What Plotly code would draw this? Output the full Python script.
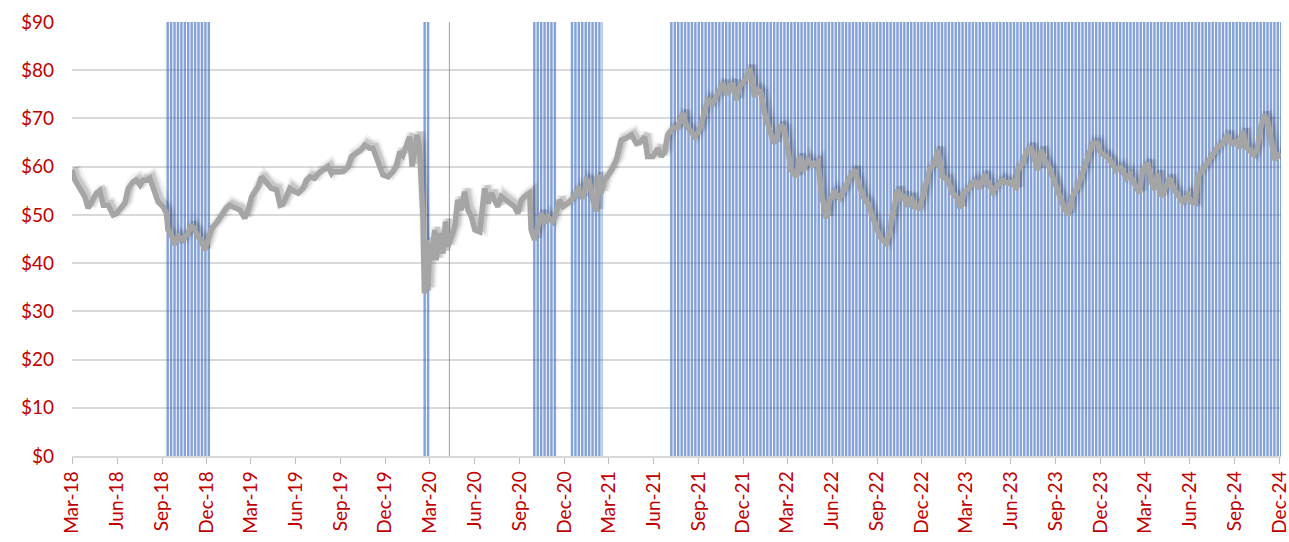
import pandas as pd
import plotly.graph_objects as go

# ---------------- data ----------------
dates_2018 = ["2018-03-01","2018-03-07","2018-03-17","2018-03-27","2018-04-03","2018-04-10","2018-04-20","2018-04-27",
              "2018-05-04","2018-05-14","2018-05-24","2018-05-31","2018-06-10","2018-06-17","2018-06-24","2018-07-04",
              "2018-07-11","2018-07-18","2018-07-24","2018-07-31","2018-08-07","2018-08-17","2018-08-24","2018-09-03",
              "2018-09-10","2018-09-13","2018-09-20","2018-09-27","2018-10-04","2018-10-14","2018-10-24","2018-10-31",
              "2018-11-07","2018-11-13","2018-11-20","2018-11-27","2018-12-04","2018-12-11","2018-12-21","2018-12-31"]
price_2018 = [59.3,57.2,55.5,53.8,51.4,52.7,54.5,55.0,52.0,52.0,50.0,50.3,51.4,52.4,55.5,56.9,57.2,56.2,57.2,57.2,
              57.6,54.8,52.7,51.7,50.3,46.9,45.8,43.8,45.5,44.8,46.2,47.9,46.9,45.5,44.8,42.7,44.8,47.2,48.3,50.0]

dates_2019 = ["2019-01-10","2019-01-17","2019-01-27","2019-02-07","2019-02-17","2019-02-24","2019-03-03","2019-03-09",
              "2019-03-16","2019-03-23","2019-04-02","2019-04-12","2019-04-23","2019-04-30","2019-05-06","2019-05-13",
              "2019-05-20","2019-05-27","2019-06-06","2019-06-16","2019-06-23","2019-06-30","2019-07-10","2019-07-17",
              "2019-07-27","2019-08-06","2019-08-13","2019-08-16","2019-08-26","2019-09-06","2019-09-16","2019-09-23",
              "2019-10-03","2019-10-13","2019-10-20","2019-10-30","2019-11-06","2019-11-13","2019-11-20","2019-11-26",
              "2019-12-07","2019-12-17","2019-12-24","2019-12-31"]
price_2019 = [51.4,52.0,51.4,51.0,49.3,51.0,53.8,55.0,55.8,57.9,56.5,55.5,55.2,52.0,52.2,53.8,55.5,55.0,54.5,55.5,
              57.2,57.9,57.6,58.6,59.3,60.0,58.6,59.0,58.9,59.0,60.0,62.1,62.8,63.5,64.5,63.8,63.8,61.7,60.0,58.3,
              57.9,59.0,60.3,63.1]

dates_2020 = ["2020-01-06","2020-01-13","2020-01-20","2020-01-25","2020-01-30","2020-02-04","2020-02-09","2020-02-13",
              "2020-02-16","2020-02-18","2020-02-19","2020-02-23","2020-02-26","2020-03-01","2020-03-04","2020-03-11",
              "2020-03-14","2020-03-21","2020-03-28","2020-04-02","2020-04-07","2020-04-14","2020-04-21","2020-04-27",
              "2020-05-04","2020-05-11","2020-05-18","2020-05-25","2020-06-01","2020-06-11","2020-06-16","2020-06-21",
              "2020-06-28","2020-07-05","2020-07-11","2020-07-18","2020-07-25","2020-08-04","2020-08-14","2020-08-21",
              "2020-08-28","2020-09-04","2020-09-14","2020-09-21","2020-09-24","2020-10-01","2020-10-08","2020-10-15",
              "2020-10-22","2020-10-28","2020-11-07","2020-11-14","2020-11-21","2020-11-28","2020-12-08","2020-12-18",
              "2020-12-29"]
price_2020 = [62.4,64.8,66.2,60.0,63.5,66.6,64.1,56.5,49.6,39.3,33.7,44.8,34.4,44.1,40.6,46.9,40.6,46.2,42.0,
              48.6,43.4,45.5,47.6,53.1,51.0,54.8,51.0,49.6,46.9,46.5,51.0,55.5,52.4,54.5,53.1,51.7,53.8,
              53.1,52.4,51.7,50.3,53.1,54.1,54.5,46.9,44.8,47.6,50.3,48.3,49.6,48.6,50.3,53.1,51.7,52.4,53.4,55.2]

dates_2021 = ["2021-01-08","2021-01-15","2021-01-21","2021-01-28","2021-02-04","2021-02-09","2021-02-14","2021-02-21",
              "2021-03-07","2021-03-17","2021-03-27","2021-04-06","2021-04-17","2021-04-27","2021-05-04","2021-05-14",
              "2021-05-20","2021-05-31","2021-06-10","2021-06-17","2021-06-24","2021-06-30","2021-07-11","2021-07-21",
              "2021-07-31","2021-08-07","2021-08-17","2021-08-24","2021-09-03","2021-09-13","2021-09-20","2021-09-30",
              "2021-10-10","2021-10-21","2021-10-28","2021-11-03","2021-11-10","2021-11-17","2021-11-24","2021-12-01",
              "2021-12-07","2021-12-14","2021-12-20","2021-12-24","2021-12-31"]
price_2021 = [53.4,57.2,56.9,53.1,50.7,58.3,54.5,57.2,59.3,61.4,65.5,65.9,66.6,64.8,65.0,66.2,62.1,62.1,
              63.8,62.1,63.1,66.6,68.0,68.2,71.1,68.6,67.3,66.2,67.6,71.8,73.8,73.1,75.2,77.3,74.9,
              76.6,77.3,73.8,76.6,77.6,78.3,80.4,78.0,74.5,75.9]

dates_2022 = ["2022-01-07","2022-01-14","2022-01-24","2022-02-03","2022-02-10","2022-02-17","2022-02-24","2022-03-02",
              "2022-03-09","2022-03-20","2022-03-26","2022-04-02","2022-04-12","2022-04-22","2022-05-03","2022-05-10",
              "2022-05-20","2022-05-27","2022-06-06","2022-06-16","2022-06-26","2022-07-06","2022-07-17","2022-07-23",
              "2022-08-03","2022-08-13","2022-08-25","2022-09-06","2022-09-19","2022-09-26","2022-10-03","2022-10-10",
              "2022-10-13","2022-10-20","2022-10-27","2022-11-02","2022-11-09","2022-11-16","2022-11-26","2022-12-03",
              "2022-12-10","2022-12-17","2022-12-27"]
price_2022 = [75.2,71.1,67.6,64.8,66.9,68.6,67.6,63.5,59.3,57.9,62.1,59.0,61.4,60.3,61.0,54.5,49.3,53.1,
              54.8,53.4,55.2,57.6,59.3,57.2,53.8,52.4,48.5,45.5,44.1,46.2,50.3,53.1,55.2,53.1,54.1,
              51.7,53.8,51.7,51.4,53.8,57.2,59.3,60.7]

dates_2023 = ["2023-01-03","2023-01-08","2023-01-13","2023-01-23","2023-02-02","2023-02-13","2023-02-17","2023-02-26",
              "2023-03-09","2023-03-19","2023-03-29","2023-04-08","2023-04-15","2023-04-25","2023-05-05","2023-05-15",
              "2023-05-26","2023-06-05","2023-06-12","2023-06-15","2023-06-25","2023-07-02","2023-07-12","2023-07-19",
              "2023-07-26","2023-08-02","2023-08-09","2023-08-19","2023-08-29","2023-09-08","2023-09-18","2023-09-27",
              "2023-10-05","2023-10-16","2023-10-26","2023-11-05","2023-11-15","2023-11-25","2023-12-02","2023-12-13",
              "2023-12-23"]
price_2023 = [63.5,60.7,57.9,57.2,54.5,53.4,51.4,54.5,55.8,56.9,55.5,58.3,56.9,54.8,56.2,57.2,56.5,
              56.9,55.2,59.3,60.7,62.8,64.1,62.1,59.3,63.5,61.4,59.7,56.9,53.8,51.4,50.0,53.8,55.8,58.6,
              62.1,64.8,64.8,62.8,62.1,61.0]

dates_2024 = ["2024-01-02","2024-01-12","2024-01-23","2024-01-30","2024-02-08","2024-02-19","2024-02-25","2024-03-07",
              "2024-03-14","2024-03-20","2024-03-27","2024-04-03","2024-04-13","2024-04-20","2024-04-30","2024-05-11",
              "2024-05-17","2024-05-28","2024-06-03","2024-06-12","2024-06-17","2024-06-27","2024-07-07","2024-07-17",
              "2024-07-28","2024-08-07","2024-08-17","2024-08-24","2024-09-03","2024-09-10","2024-09-18","2024-09-24",
              "2024-10-04","2024-10-10","2024-10-17","2024-10-24","2024-10-31","2024-11-07","2024-11-14","2024-11-21",
              "2024-11-28","2024-12-03"]
price_2024 = [59.3,59.8,57.6,58.3,56.5,54.5,59.3,60.7,56.9,55.2,58.6,53.8,55.8,57.6,55.2,53.8,52.7,54.1,
              52.7,52.4,57.9,59.3,60.7,62.1,64.1,64.8,66.6,64.8,65.2,63.8,67.3,64.1,63.1,62.4,64.1,68.3,70.7,
              69.3,65.5,61.4,62.4,62.1]

# periods in which the signal (blue bars, full height) is on
signal_start = ["2018-09-10", "2020-02-17", "2020-04-09", "2020-09-28", "2020-12-14", "2021-07-05"]
signal_end   = ["2018-12-07", "2020-02-28", "2020-04-10", "2020-11-13", "2021-02-16", "2024-12-03"]
signal_level = 90

y_tick_values = [0, 10, 20, 30, 40, 50, 60, 70, 80, 90]
y_tick_labels = ["$0", "$10", "$20", "$30", "$40", "$50", "$60", "$70", "$80", "$90"]
x_first_tick = "2018-03-01"
x_range = ["2018-03-01", "2024-12-04"]

# ---------------- build ----------------
dates = dates_2018 + dates_2019 + dates_2020 + dates_2021 + dates_2022 + dates_2023 + dates_2024
price = price_2018 + price_2019 + price_2020 + price_2021 + price_2022 + price_2023 + price_2024

# trading days of the signal, drawn as one bar per run of consecutive weekdays
bar_x, bar_w = [], []
day = pd.Timedelta(days=1)
for s, e in zip(signal_start, signal_end):
    days = pd.bdate_range(s, e)
    run_start = days[0]
    prev = days[0]
    for d in list(days[1:]) + [None]:
        if d is None or d - prev > day:
            run_end = prev + day
            bar_x.append(run_start + (run_end - run_start) / 2)
            bar_w.append((run_end - run_start).total_seconds() * 1000)
            if d is not None:
                run_start = d
        if d is not None:
            prev = d

RED = "#C00000"
FONT = "Lato"

fig = go.Figure()
fig.add_trace(go.Bar(x=bar_x, y=[signal_level] * len(bar_x), width=bar_w,
                     marker=dict(color="rgba(68,114,196,0.66)", line=dict(width=0)),
                     hoverinfo="skip", showlegend=False, xaxis="x", yaxis="y"))
# soft drop shadow of the price line (drawn on slightly shifted overlay axes)
for w, a in [(12, 0.05), (8, 0.08), (5, 0.10)]:
    fig.add_trace(go.Scatter(x=dates, y=price, mode="lines",
                             line=dict(color=f"rgba(0,0,0,{a})", width=w),
                             hoverinfo="skip", showlegend=False, xaxis="x2", yaxis="y2"))
fig.add_trace(go.Scatter(x=dates, y=price, mode="lines",
                         line=dict(color="#A5A5A5", width=5.5),
                         showlegend=False, xaxis="x3", yaxis="y3"))

shift = pd.Timedelta(days=6)
x2_range = [str((pd.Timestamp(x_range[0]) - shift).date()), str((pd.Timestamp(x_range[1]) - shift).date())]

fig.update_layout(
    width=1289, height=542,
    margin=dict(l=72, r=8, t=22, b=86, autoexpand=False),
    paper_bgcolor="white", plot_bgcolor="white",
    bargap=0.2,
    font=dict(family=FONT, color=RED, size=19),
    xaxis=dict(type="date", range=x_range, tick0=x_first_tick, dtick="M3", tickformat="%b-%y",
               tickangle=-90, ticks="outside", ticklen=6, tickwidth=1.3, tickcolor="#BFBFBF",
               showline=True, linecolor="#D9D9D9", linewidth=1.5, showgrid=False, zeroline=False,
               ticklabeloverflow="allow", automargin=False,
               tickfont=dict(family=FONT, color=RED, size=19)),
    yaxis=dict(range=[0, 90], tickmode="array", tickvals=y_tick_values, ticktext=y_tick_labels,
               showgrid=True, gridcolor="#D9D9D9", gridwidth=1.5, zeroline=False, showline=False, ticks="",
               ticklabelstandoff=17, automargin=False, tickfont=dict(family=FONT, color=RED, size=19)),
    xaxis2=dict(type="date", overlaying="x", range=x2_range, visible=False),
    yaxis2=dict(overlaying="y", range=[-0.6, 89.4], visible=False),
    xaxis3=dict(type="date", overlaying="x", range=x_range, visible=False),
    yaxis3=dict(overlaying="y", range=[0, 90], visible=False),
)

fig.write_html("out.html", config={"displayModeBar": False},
               post_script="document.body.style.margin='0';document.body.style.overflow='hidden';")
